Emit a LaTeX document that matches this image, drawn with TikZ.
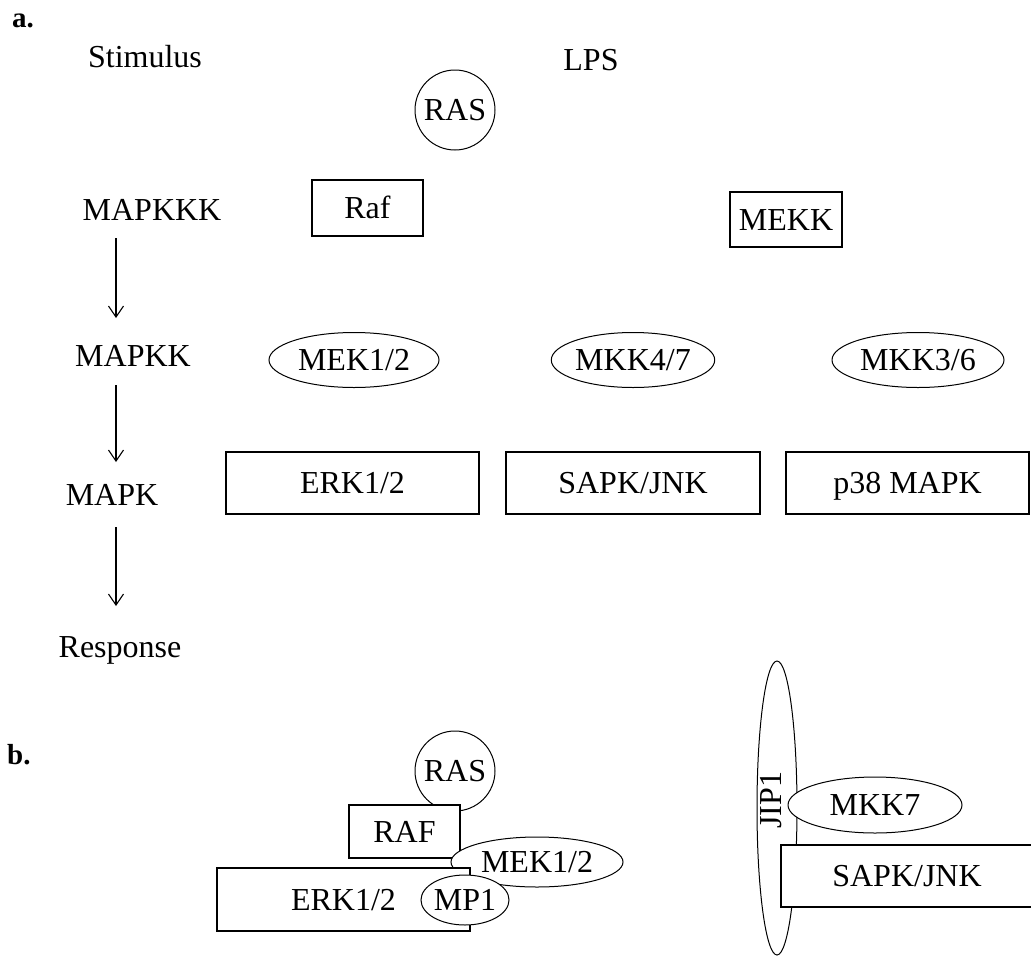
\documentclass[tikz,border=0pt]{standalone}
\usepackage{fontspec}
\setmainfont{Liberation Serif}
\usetikzlibrary{shapes.geometric,arrows.meta}
\tikzset{
  txt/.style={font=\fontsize{32}{38}\selectfont, inner sep=0pt},
  lbl/.style={font=\fontsize{29}{34}\selectfont\bfseries, inner sep=0pt, anchor=base west},
  boxn/.style={txt, draw, fill=white, line width=1.1pt, rectangle, text height=21pt, text depth=0pt},
  elln/.style={txt, draw, fill=white, line width=1.0pt, ellipse, text height=21pt, text depth=0pt},
  circn/.style={txt, draw, fill=white, line width=1.0pt, circle, minimum size=80pt, text height=21pt, text depth=0pt},
  arr/.style={line width=1.1pt, -{Straight Barb[length=11pt,width=15pt,line width=1.1pt]}}
}
\begin{document}
\begin{tikzpicture}[x=1pt,y=-1pt]
\useasboundingbox (0,0) rectangle (1031,956);
% ---------- part a ----------
\node[lbl] (la) at (12,27) {a.};
\node[txt, anchor=base] (stim) at (145,67) {Stimulus};
\node[txt, anchor=base] (lps) at (591,70) {LPS};
\node[circn] (ras) at (455,110) {RAS};
\node[boxn, minimum width=111pt, minimum height=56pt] (raf) at (367.5,208) {Raf};
\node[boxn, minimum width=112pt, minimum height=55pt] (mekk) at (786,219.5) {MEKK};
\node[txt, anchor=base] (mapkkk) at (152,220) {MAPKKK};
\node[txt, anchor=base] (mapkk) at (133,366) {MAPKK};
\node[txt, anchor=base] (mapk) at (112,505) {MAPK};
\node[txt, anchor=base] (resp) at (120,657) {Response};
\coordinate (a1s) at (116,238); \coordinate (a1e) at (116,318);
\coordinate (a2s) at (116,385); \coordinate (a2e) at (116,462);
\coordinate (a3s) at (116,527); \coordinate (a3e) at (116,606);
\draw[arr] (a1s) -- (a1e);
\draw[arr] (a2s) -- (a2e);
\draw[arr] (a3s) -- (a3e);
\node[elln, minimum width=170pt, minimum height=55pt] (mek) at (354,360) {MEK1/2};
\node[elln, minimum width=162pt, minimum height=55pt] (mkk47) at (633,360) {MKK4/7};
\node[elln, minimum width=172pt, minimum height=55pt] (mkk36) at (918,360) {MKK3/6};
\node[boxn, minimum width=253pt, minimum height=62pt] (erk) at (352.5,483) {ERK1/2};
\node[boxn, minimum width=254pt, minimum height=62pt] (sapk) at (633,483) {SAPK/JNK};
\node[boxn, minimum width=243pt, minimum height=62pt] (p38) at (907.5,483) {p38 MAPK};
% ---------- part b ----------
\node[lbl] (lb) at (7,764) {b.};
\node[circn] (rasb) at (455,771) {RAS};
\node[boxn, minimum width=111pt, minimum height=53pt] (rafb) at (404.5,831.5) {RAF};
\node[elln, minimum width=172pt, minimum height=50pt] (mekb) at (537,862) {MEK1/2};
\node[boxn, minimum width=253pt, minimum height=63pt] (erkb) at (343.5,899.5) {ERK1/2};
\node[elln, minimum width=76pt, minimum height=50pt, inner sep=0pt] (mp1) at (465,900) {MP1};
\node[elln, minimum width=40pt, minimum height=294pt, inner sep=0pt] (jip) at (777,808) {};
\node[txt, rotate=90] (jiptxt) at (771,800) {JIP1};
\node[elln, minimum width=174pt, minimum height=56pt] (mkk7) at (875,805) {MKK7};
\node[boxn, minimum width=252pt, minimum height=62pt] (sapkb) at (907,876) {SAPK/JNK};
\end{tikzpicture}
\end{document}
